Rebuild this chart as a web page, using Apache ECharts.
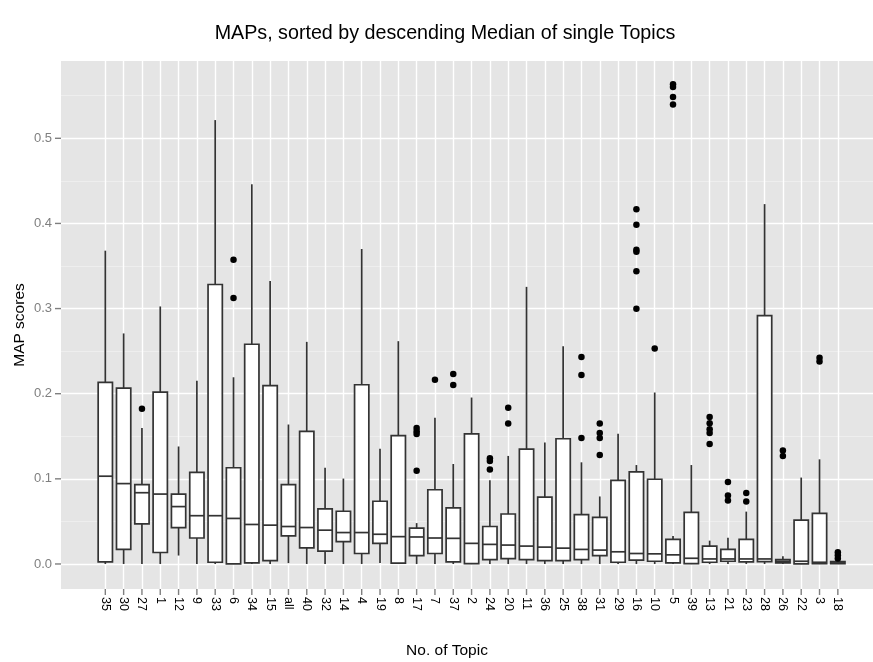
<!DOCTYPE html>
<html>
<head>
<meta charset="utf-8">
<script src="https://cdn.jsdelivr.net/npm/echarts@6/dist/echarts.min.js"></script>
<style>
html,body{margin:0;padding:0;background:#fff;}
#chart{width:873px;height:662px;}
</style>
</head>
<body>
<div id="chart"></div>
<script>
// ---- data ----
var categories = ['35','30','27','1','12','9','33','6','34','15','all','40','32','14','4','19','8','17','7','37','2','24','20','11','36','25','38','31','29','16','10','5','39','13','21','23','28','26','22','3','18'];
var whiskerLow = [0,0,0,0,0.0099,0,0,0,0,0,0.001,0,0,0,0,0.001,0,0,0,0,0,0,0,0,0,0,0,0,0,0,0,0,0,0,0,0,0,0,0,0,0];
var q1 = [0.0024,0.0171,0.0472,0.0135,0.0428,0.0305,0.002,0,0.0012,0.004,0.0329,0.019,0.0151,0.0262,0.0123,0.0242,0.001,0.0099,0.0123,0.0024,0.0004,0.0052,0.0063,0.0052,0.004,0.004,0.0052,0.0099,0.002,0.0044,0.0032,0.0012,0.0004,0.002,0.0032,0.0024,0.0028,0.0012,0,0.0004,0.0004];
var median = [0.1031,0.0944,0.0837,0.0821,0.0674,0.0567,0.0567,0.0535,0.0464,0.0456,0.044,0.0428,0.0397,0.0369,0.0369,0.0349,0.0321,0.0317,0.0305,0.0301,0.0242,0.023,0.0222,0.021,0.0198,0.0186,0.0171,0.0163,0.0143,0.0123,0.0119,0.0107,0.0067,0.0059,0.0059,0.0059,0.0059,0.0032,0.0032,0.002,0.0012];
var q3 = [0.2133,0.2066,0.0932,0.2018,0.0821,0.1075,0.3283,0.113,0.2581,0.2094,0.0932,0.1558,0.0646,0.0619,0.2105,0.0737,0.1507,0.042,0.0872,0.0658,0.1527,0.044,0.0587,0.1348,0.0785,0.1471,0.0579,0.0547,0.0983,0.1082,0.0995,0.0289,0.0607,0.021,0.0171,0.0289,0.2918,0.0052,0.0515,0.0595,0.0028];
var whiskerHigh = [0.368,0.2708,0.1598,0.3025,0.138,0.2153,0.5214,0.2193,0.446,0.3323,0.1638,0.2609,0.113,0.1003,0.37,0.1352,0.2617,0.048,0.1717,0.1174,0.1955,0.0983,0.1269,0.3255,0.1427,0.2558,0.1194,0.0793,0.153,0.1162,0.2014,0.0329,0.1162,0.0274,0.0309,0.0615,0.4227,0.0091,0.1015,0.1229,0.0028];
var outlierTopics = ['27','6','6','17','17','17','17','7','37','37','24','24','24','20','20','38','38','38','31','31','31','31','16','16','16','16','16','16','10','5','5','5','5','13','13','13','13','13','21','21','21','23','23','26','26','3','3','18','18','18'];
var outlierValues = [0.1824,0.3573,0.3125,0.1598,0.1558,0.1527,0.1094,0.2165,0.2232,0.2102,0.1241,0.1209,0.111,0.1836,0.165,0.2431,0.222,0.1479,0.165,0.1538,0.1479,0.1281,0.4167,0.3985,0.369,0.3668,0.3438,0.2998,0.253,0.5634,0.5603,0.5484,0.5397,0.1725,0.1653,0.1582,0.1538,0.1408,0.0964,0.0805,0.0745,0.0833,0.0734,0.1332,0.1269,0.2423,0.2379,0.0139,0.0103,0.0063];
var yMajorTicks = [0,0.1,0.2,0.3,0.4,0.5];
var yMinorTicks = [0.05,0.15,0.25,0.35,0.45,0.55];

// ---- build series data ----
var boxData = categories.map(function(c,i){ return [i, whiskerLow[i], q1[i], median[i], q3[i], whiskerHigh[i]]; });
var outData = outlierTopics.map(function(t,k){ return [categories.indexOf(t), outlierValues[k]]; });
var catIdx = categories.map(function(c,i){ return i; });

var FONT = '"Liberation Sans", Arial, Helvetica, sans-serif';
var chart = echarts.init(document.getElementById('chart'), null, {renderer:'canvas'});
var XMIN = -2.42, XMAX = 41.92;
var YMIN = -0.0294, YMAX = 0.5908;

chart.setOption({
  animation:false,
  backgroundColor:'#ffffff',
  grid:{left:61, right:0, top:61, bottom:73, show:true, backgroundColor:'#E5E5E5', borderWidth:0},
  xAxis:{
    type:'value', min:XMIN, max:XMAX, position:'bottom',
    axisLine:{show:false, onZero:false},
    axisTick:{show:false, customValues:catIdx},
    axisLabel:{show:true, customValues:catIdx, rotate:-90, margin:8, color:'#000', fontSize:12.5, fontFamily:FONT,
      formatter:function(v){ return categories[Math.round(v)]; }},
    splitLine:{show:true, lineStyle:{color:'#ffffff', width:1.4}}
  },
  yAxis:[{
    type:'value', min:YMIN, max:YMAX, position:'left',
    axisLine:{show:false, onZero:false},
    axisTick:{show:false, customValues:yMajorTicks},
    axisLabel:{show:true, customValues:yMajorTicks, margin:9, color:'#7F7F7F', fontSize:13, fontFamily:FONT,
      formatter:function(v){ return v.toFixed(1); }},
    splitLine:{show:true, lineStyle:{color:'#ffffff', width:1.4}}
  },{
    type:'value', min:YMIN, max:YMAX, position:'left',
    axisLine:{show:false, onZero:false},
    axisTick:{show:false, customValues:yMinorTicks},
    axisLabel:{show:false, customValues:yMinorTicks},
    splitLine:{show:true, lineStyle:{color:'#F2F2F2', width:0.7}}
  }],
  graphic:[
    {type:'text', x:445, y:34, z:10, style:{text:'MAPs, sorted by descending Median of single Topics', font:'19.7px '+FONT, fill:'#000', textAlign:'center', textVerticalAlign:'middle'}},
    {type:'text', x:447, y:651, z:10, style:{text:'No. of Topic', font:'15.5px '+FONT, fill:'#000', textAlign:'center', textVerticalAlign:'middle'}},
    {type:'text', x:20, y:325, rotation:Math.PI/2, z:10, style:{text:'MAP scores', font:'15.5px '+FONT, fill:'#000', textAlign:'center', textVerticalAlign:'middle'}}
  ],
  series:[{
    type:'custom',
    xAxisIndex:0, yAxisIndex:0,
    data:boxData,
    encode:{x:0, y:[1,2,3,4,5]},
    clip:true,
    renderItem:function(params, api){
      var x = api.value(0);
      var lo = api.coord([x, api.value(1)]);
      var a = api.coord([x, api.value(2)]);
      var m = api.coord([x, api.value(3)]);
      var b = api.coord([x, api.value(4)]);
      var hi = api.coord([x, api.value(5)]);
      var half = api.size([1,0])[0]*0.39;
      var st = {stroke:'#333333', lineWidth:1.7};
      return {type:'group', children:[
        {type:'line', shape:{x1:lo[0], y1:lo[1], x2:a[0], y2:a[1]}, style:st},
        {type:'line', shape:{x1:b[0], y1:b[1], x2:hi[0], y2:hi[1]}, style:st},
        {type:'rect', shape:{x:a[0]-half, y:b[1], width:2*half, height:Math.max(a[1]-b[1],0.5)}, style:{fill:'#ffffff', stroke:'#333333', lineWidth:1.7}},
        {type:'line', shape:{x1:m[0]-half, y1:m[1], x2:m[0]+half, y2:m[1]}, style:st}
      ]};
    }
  },{
    type:'scatter',
    xAxisIndex:0, yAxisIndex:0,
    data:outData,
    symbol:'circle', symbolSize:6.5,
    itemStyle:{color:'#000000', opacity:1},
    z:5
  },{
    // x-axis tick marks at each topic position
    type:'custom', xAxisIndex:0, yAxisIndex:0, silent:true, clip:false, z:6,
    data:catIdx.map(function(i){ return [i, 0]; }),
    encode:{x:0, y:1},
    renderItem:function(params, api){
      var p = api.coord([api.value(0), YMIN]);
      return {type:'rect', shape:{x:p[0]-0.7, y:p[1], width:1.4, height:6}, style:{fill:'#7F7F7F'}};
    }
  },{
    // y-axis tick marks at major breaks
    type:'custom', xAxisIndex:0, yAxisIndex:0, silent:true, clip:false, z:6,
    data:yMajorTicks.map(function(v){ return [0, v]; }),
    encode:{x:0, y:1},
    renderItem:function(params, api){
      var p = api.coord([XMIN, api.value(1)]);
      return {type:'rect', shape:{x:p[0]-6, y:p[1]-0.7, width:6, height:1.4}, style:{fill:'#7F7F7F'}};
    }
  }]
});
</script>
</body>
</html>
